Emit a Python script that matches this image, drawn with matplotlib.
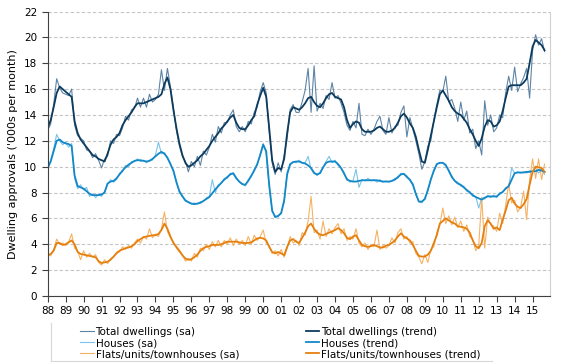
import matplotlib
matplotlib.use("Agg")
import matplotlib.pyplot as plt
import numpy as np
from matplotlib.lines import Line2D

# bi-monthly readings ('000 per month), Jan 1988 .. Sep 2015
total_sa = [
    12.8, 13.3, 14.8, 16.8, 16.1, 15.7,
    15.6, 15.5, 16.0, 13.2, 12.4, 12.2,
    12.0, 11.3, 11.2, 10.7, 11.0, 10.5,
    9.9, 10.6, 10.8, 12.0, 11.8, 12.5,
    12.4, 13.0, 13.9, 13.6, 14.4, 14.5,
    15.3, 14.6, 15.3, 14.6, 15.6, 15.0,
    15.2, 15.6, 17.5, 15.9, 17.6, 16.2,
    14.6, 12.8, 11.6, 10.8, 10.4, 9.6,
    10.4, 10.0, 10.8, 10.1, 11.2, 10.9,
    11.5, 12.5, 11.9, 13.1, 12.6, 13.4,
    13.4, 14.0, 14.4, 13.1, 12.7, 13.1,
    12.7, 13.5, 13.3, 14.2, 14.6, 15.8,
    16.5, 15.7, 12.7, 10.3, 9.4, 10.3,
    9.6, 10.9, 12.2, 14.4, 14.8, 14.2,
    14.2, 15.0, 15.9, 17.6, 14.2, 17.8,
    14.3, 14.9, 14.5, 15.5, 15.2, 16.5,
    15.3, 15.5, 14.9, 14.2, 13.2, 12.8,
    13.5, 13.0, 14.9, 12.5, 12.4, 12.9,
    12.5, 12.9, 13.5, 13.9, 12.8, 12.5,
    13.8, 12.6, 13.1, 13.2, 14.2, 14.7,
    12.3, 13.8, 12.9, 12.0, 11.0, 9.8,
    10.4, 11.6, 12.0, 13.6, 14.8, 15.9,
    15.8, 17.0, 15.0, 15.2, 14.5, 13.5,
    15.0, 13.6, 14.3, 12.6, 12.9, 11.4,
    12.0, 10.9, 15.1, 13.2, 14.0, 12.7,
    13.0, 14.0, 13.8, 15.7, 17.0, 15.9,
    17.7, 15.8, 16.4, 16.9, 17.6, 15.3,
    19.0, 20.2, 19.4, 19.9, 18.9,
]
total_trend = [
    13.0, 13.6, 14.6, 15.7, 16.2, 16.0,
    15.8, 15.6, 15.4, 13.5, 12.6, 12.1,
    11.8, 11.5, 11.2, 10.9, 10.8, 10.6,
    10.5, 10.4, 11.0, 11.7, 12.1, 12.3,
    12.6, 13.2, 13.6, 13.9, 14.2, 14.6,
    14.9, 14.9, 14.9, 15.0, 15.1, 15.2,
    15.3, 15.4, 15.6, 16.4, 16.9, 16.0,
    14.4, 13.0, 11.8, 10.9, 10.3, 10.0,
    10.1, 10.3, 10.5, 10.8, 11.0, 11.3,
    11.6, 12.0, 12.3, 12.6, 12.95, 13.2,
    13.5, 13.8, 14.0, 13.4, 13.0, 12.9,
    12.9, 13.2, 13.6, 13.9, 14.8, 15.5,
    16.1, 15.4, 13.0, 10.5, 9.6, 9.9,
    9.8, 10.6, 12.6, 14.2, 14.6, 14.5,
    14.4, 14.6, 14.9, 15.3, 15.4, 15.0,
    14.7, 14.6, 14.9, 15.3, 15.6, 15.7,
    15.4, 15.3, 15.2, 14.6, 13.6, 13.0,
    13.3, 13.5, 13.4, 12.9, 12.7, 12.7,
    12.7, 12.8, 13.0, 13.1, 12.9, 12.7,
    12.7, 12.8, 13.0, 13.4, 13.9, 14.1,
    13.8, 13.35, 13.0, 12.3, 11.3, 10.4,
    10.3, 11.3, 12.4, 13.5, 14.6, 15.6,
    15.9, 15.5, 15.1, 14.6, 14.3, 14.1,
    14.0, 13.7, 13.4, 12.9, 12.5, 12.0,
    11.6, 12.2, 13.1, 13.6, 13.5, 13.1,
    13.2, 13.5, 14.3, 15.3, 16.2, 16.3,
    16.3, 16.3, 16.3, 16.5, 16.8, 18.0,
    19.3, 19.8, 19.6, 19.4, 19.0,
]
houses_sa = [
    9.8, 10.5, 11.4, 12.5, 12.0, 11.7,
    11.9, 11.5, 11.8, 9.1, 8.3, 8.6,
    8.2, 8.4, 7.7, 7.9, 7.6, 7.9,
    7.7, 8.1, 8.6, 9.0, 8.8, 9.0,
    9.5, 9.6, 10.1, 10.0, 10.4, 10.4,
    10.6, 10.4, 10.5, 10.3, 10.5, 10.5,
    10.9, 11.9, 11.0, 11.1, 10.6, 10.3,
    9.6, 8.9, 8.0, 7.8, 7.3, 7.3,
    7.1, 7.2, 7.1, 7.3, 7.3, 7.6,
    7.7, 9.0, 8.0, 8.6, 8.7, 9.1,
    9.1, 9.5, 9.4, 9.2, 8.8, 8.7,
    8.5, 9.0, 9.2, 9.8, 10.1, 11.0,
    11.8, 11.0, 8.4, 6.5, 6.2, 6.1,
    6.5, 7.2, 9.6, 10.1, 10.4, 10.3,
    10.5, 10.3, 10.3, 10.8, 9.8, 9.6,
    9.3, 9.6, 9.9, 10.4, 10.8, 10.3,
    10.5, 10.1, 9.9, 9.4, 9.1, 8.8,
    8.9, 9.8, 8.4, 9.0, 8.9, 9.1,
    8.9, 9.0, 8.8, 9.0, 8.8, 8.9,
    8.8, 8.9, 9.1, 9.1, 9.5, 9.4,
    9.3, 8.9, 8.7, 7.8, 7.3, 7.2,
    7.6, 8.1, 9.1, 9.6, 10.2, 10.3,
    10.3, 10.2, 9.6, 9.3, 8.9, 8.8,
    8.5, 8.5, 8.1, 8.1, 7.7, 7.7,
    6.8, 7.6, 7.5, 7.8, 7.6, 7.8,
    7.6, 8.0, 8.0, 8.4, 8.4, 9.9,
    9.5, 9.6, 9.5, 9.6, 9.5, 9.7,
    9.6, 9.9, 9.5, 9.8, 9.4,
]
houses_trend = [
    9.9, 10.4, 11.2, 12.0, 12.1, 11.9,
    11.8, 11.75, 11.6, 9.3, 8.5, 8.4,
    8.3, 8.1, 7.9, 7.8, 7.8, 7.8,
    7.85, 8.0, 8.7, 8.85, 8.9, 9.1,
    9.4, 9.7, 9.95, 10.15, 10.3, 10.45,
    10.5, 10.5, 10.45, 10.4, 10.45, 10.6,
    10.8, 11.0, 11.15, 11.0, 10.7, 10.2,
    9.7, 8.8, 8.1, 7.7, 7.4, 7.25,
    7.15, 7.1, 7.15, 7.2, 7.35, 7.5,
    7.65, 7.95, 8.25, 8.5, 8.75, 9.0,
    9.2, 9.4, 9.5, 9.1, 8.85, 8.65,
    8.6, 8.9, 9.3, 9.7, 10.2, 10.9,
    11.7, 11.2, 8.6, 6.6, 6.1, 6.2,
    6.4, 7.4, 9.4, 10.2, 10.35, 10.4,
    10.4, 10.3, 10.25, 10.1, 9.9, 9.5,
    9.4, 9.5, 9.95, 10.3, 10.4, 10.4,
    10.4, 10.2, 9.9, 9.5, 9.0, 8.9,
    8.85, 8.85, 8.9, 8.95, 8.95, 8.95,
    8.95, 8.95, 8.95, 8.9, 8.85, 8.85,
    8.85, 8.9, 9.0, 9.2, 9.4, 9.45,
    9.2, 9.0, 8.6, 7.9, 7.3, 7.3,
    7.5, 8.2, 9.0, 9.7, 10.2, 10.3,
    10.3, 10.1, 9.7, 9.2, 8.9, 8.7,
    8.6, 8.4, 8.2, 8.0, 7.8, 7.65,
    7.55, 7.45, 7.6, 7.7, 7.7, 7.7,
    7.7, 7.9, 8.05, 8.3, 8.5, 9.0,
    9.5, 9.55, 9.55, 9.55, 9.6, 9.6,
    9.65, 9.65, 9.75, 9.7, 9.6,
]
flats_sa = [
    3.3, 3.1, 3.6, 4.4, 4.0, 4.1,
    3.9, 4.2, 4.8, 3.7, 3.5, 2.8,
    3.5, 3.0, 3.3, 3.0, 3.2, 2.6,
    2.4, 2.8, 2.5, 2.9, 3.0, 3.4,
    3.4, 3.8, 3.6, 3.9, 3.7, 4.1,
    4.4, 4.1, 4.6, 4.4, 5.2, 4.5,
    4.8, 4.6, 5.2, 6.5, 5.0, 4.5,
    4.2, 3.7, 3.4, 3.2, 2.7, 2.9,
    2.7, 3.3, 3.0, 3.7, 3.5, 4.0,
    3.6, 4.2, 3.8, 4.3, 3.8, 4.3,
    4.0, 4.5, 3.9, 4.4, 4.0, 4.3,
    3.9, 4.6, 4.0, 4.7, 4.3, 4.6,
    5.1, 4.1, 3.9, 3.3, 3.5, 3.1,
    3.6, 3.0, 3.7, 4.6, 4.1, 4.3,
    3.9, 4.9, 4.7, 5.8, 7.7, 4.9,
    5.1, 4.4, 5.8, 4.6, 5.2, 4.8,
    5.3, 5.6, 4.8, 5.2, 4.3, 4.6,
    4.4, 5.2, 4.1, 3.8, 4.1, 3.6,
    4.0, 3.8, 5.1, 3.6, 3.9, 3.7,
    3.9, 4.5, 4.1, 4.9, 5.2, 4.4,
    4.6, 4.1, 4.2, 3.3, 3.0, 2.5,
    3.2, 2.6, 3.6, 3.8, 4.9, 5.5,
    6.8, 5.6, 6.2, 5.5, 6.1, 5.3,
    5.8, 5.0, 5.5, 4.6, 4.4, 3.5,
    3.9, 7.6, 3.7, 6.1, 5.5, 5.4,
    5.0, 6.4, 5.6, 7.0, 8.7, 7.2,
    7.4, 6.5, 6.9, 8.1, 5.9, 9.0,
    10.6, 9.1, 10.6, 9.0, 10.2,
]
flats_trend = [
    3.15, 3.25, 3.5, 4.1, 4.1, 3.95,
    4.0, 4.15, 4.3, 4.0, 3.4, 3.25,
    3.2, 3.15, 3.1, 3.05, 3.0, 2.7,
    2.55, 2.6, 2.65, 2.8, 3.05, 3.3,
    3.5, 3.6, 3.7, 3.75, 3.85, 4.0,
    4.25, 4.4, 4.55, 4.6, 4.65, 4.7,
    4.7, 4.8, 5.1, 5.6, 5.2, 4.6,
    4.1, 3.8, 3.5, 3.15, 2.9, 2.8,
    2.85, 3.0, 3.2, 3.5, 3.7, 3.8,
    3.85, 3.95, 3.95, 3.95, 4.0, 4.1,
    4.2, 4.2, 4.2, 4.2, 4.15, 4.1,
    4.1, 4.1, 4.15, 4.3, 4.45, 4.5,
    4.45, 4.3, 3.8, 3.4, 3.3, 3.4,
    3.3, 3.15, 3.8, 4.3, 4.4, 4.2,
    4.1, 4.5, 4.9, 5.4, 5.6, 5.2,
    4.9, 4.75, 4.7, 4.8, 4.9, 5.0,
    5.1, 5.25, 5.1, 4.85, 4.5, 4.4,
    4.6, 4.7, 4.3, 3.95, 3.85, 3.8,
    3.85, 3.95, 3.85, 3.75, 3.75, 3.9,
    3.95, 4.1, 4.3, 4.6, 4.85, 4.6,
    4.45, 4.3, 3.95, 3.5, 3.1, 3.05,
    3.05, 3.2, 3.5, 4.1, 4.7, 5.6,
    5.8, 6.0, 5.85, 5.7, 5.6, 5.4,
    5.35, 5.3, 5.2, 4.9, 4.3, 3.85,
    3.7, 4.1, 5.4, 5.85, 5.6, 5.2,
    5.3, 5.1, 5.9, 6.6, 7.4, 7.6,
    7.15, 6.9, 6.8, 7.1, 7.5, 8.6,
    9.6, 10.0, 9.95, 9.9, 9.6,
]
year_labels = ['88', '89', '90', '91', '92', '93', '94', '95', '96', '97',
               '98', '99', '00', '01', '02', '03', '04', '05', '06', '07',
               '08', '09', '10', '11', '12', '13', '14', '15']

# time axis in decimal years, one point every two months from Jan 1988
t = 1988 + np.arange(len(total_sa)) / 6.0

fig = plt.figure(figsize=(5.65, 3.64), dpi=100)
ax = fig.add_axes([0.0844, 0.1868, 0.8891, 0.7816])

ax.plot(t, total_sa, color='#5d84a6', lw=0.8, label='Total dwellings (sa)')
ax.plot(t, houses_sa, color='#7cc2ea', lw=0.8, label='Houses (sa)')
ax.plot(t, flats_sa, color='#f6b264', lw=0.8, label='Flats/units/townhouses (sa)')
ax.plot(t, total_trend, color='#0c3b5e', lw=1.3, label='Total dwellings (trend)')
ax.plot(t, houses_trend, color='#1188c8', lw=1.3, label='Houses (trend)')
ax.plot(t, flats_trend, color='#e5800e', lw=1.3, label='Flats/units/townhouses (trend)')

ax.set_xlim(1988, 2015.97)
ax.set_ylim(0, 22)
ax.set_yticks(range(0, 23, 2))
ax.set_xticks(range(1988, 2016))
ax.set_xticklabels(year_labels)
ax.tick_params(axis='both', labelsize=7.5, colors='#404040', labelcolor='black',
               direction='out', length=4, width=0.8)
ax.tick_params(axis='x', pad=3)
ax.yaxis.grid(True, color='#c4c4c4', linestyle=(0, (3, 2)), linewidth=0.8)
ax.set_axisbelow(True)
ax.spines['top'].set_visible(False)
ax.spines['right'].set_color('#d0d0d0')
ax.spines['left'].set_color('#404040')
ax.spines['bottom'].set_color('#404040')
ax.set_ylabel("Dwelling approvals ('000s per month)", fontsize=8, labelpad=4)

leg = fig.legend(loc='upper left', bbox_to_anchor=(0.135, 0.113), ncol=2,
                 fontsize=7.5, frameon=False, handlelength=1.3, handletextpad=0.15,
                 columnspacing=6.4, labelspacing=0.1, borderaxespad=0)

# partial legend frame
fig.add_artist(Line2D([0.09, 0.09], [0.008, 0.112], color='#d8d8d8', lw=0.8,
                      transform=fig.transFigure))
fig.add_artist(Line2D([0.09, 0.87], [0.008, 0.008], color='#d8d8d8', lw=0.8,
                      transform=fig.transFigure))

fig.savefig('out.png', dpi=100)
